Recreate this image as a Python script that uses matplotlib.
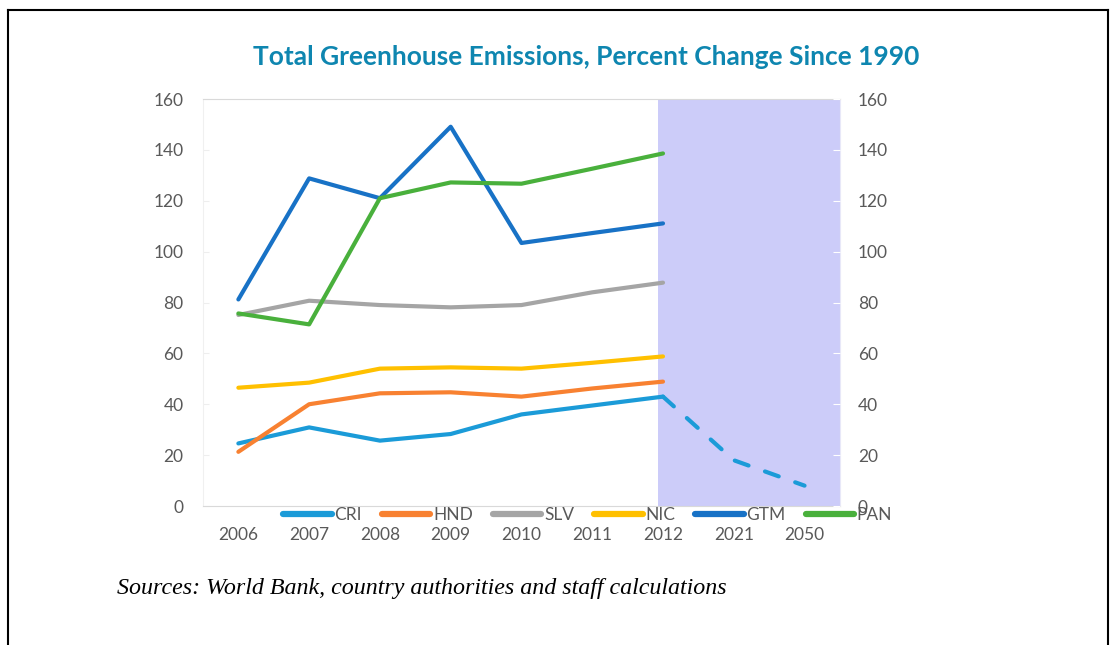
import numpy as np
import matplotlib
matplotlib.use("Agg")
import matplotlib.pyplot as plt
from matplotlib.lines import Line2D

# categories on the x axis
years = ["2006", "2007", "2008", "2009", "2010", "2011", "2012", "2021", "2050"]

# percent change since 1990 (2006-2012)
cri = [24.6, 30.9, 25.7, 28.3, 36.0, 39.5, 43.0]
hnd = [21.3, 40.0, 44.3, 44.7, 43.0, 46.2, 48.9]
slv = [75.1, 80.7, 79.0, 78.1, 79.0, 84.0, 87.8]
nic = [46.5, 48.5, 54.0, 54.5, 54.0, 56.3, 58.8]
gtm = [81.2, 128.8, 121.0, 149.1, 103.4, 107.3, 111.1]
pan = [75.7, 71.4, 121.0, 127.2, 126.7, 132.6, 138.6]
# CRI projection (2012, 2021, 2050)
cri_proj = [43.0, 18.0, 8.0]

series = [("CRI", cri, "#1B9BD8"), ("HND", hnd, "#F88131"),
          ("SLV", slv, "#A5A5A5"), ("NIC", nic, "#FFC000"),
          ("GTM", gtm, "#1872C6"), ("PAN", pan, "#49B03C")]

gray = "#595959"
plt.rcParams["font.family"] = ["Lato", "DejaVu Sans"]

fig = plt.figure(figsize=(11.11, 6.45), dpi=100)
ax = fig.add_axes([0.1827, 0.2155, 0.5733, 0.631])

x = np.arange(len(years))
ax.axvspan(5.93, 8.5, color="#CCCCF9", lw=0, zorder=0)

for name, vals, col in series:
    ax.plot(x[:len(vals)], vals, color=col, lw=3.0,
            solid_capstyle="round", solid_joinstyle="round", zorder=3)
ax.plot(x[6:], cri_proj, color="#1B9BD8", lw=3.0, dashes=(3.5, 4.2),
        dash_capstyle="round", zorder=3)

ax.set_xlim(-0.5, 8.5)
ax.set_ylim(0, 160)
ax.set_yticks(range(0, 161, 20))
ax.set_xticks(x)
ax.set_xticklabels(years)
for s in ax.spines.values():
    s.set_color("#D9D9D9")
ax.spines["left"].set_color("#F0F0F0")
ax.spines["right"].set_color("#E8E8F8")
ax.tick_params(axis="x", length=0, pad=15, labelsize=12.5, labelcolor=gray)
ax.tick_params(axis="y", direction="in", length=4, color="#EEEEEE",
               pad=14, labelsize=12.5, labelcolor=gray)

ax2 = ax.twinx()
ax2.set_ylim(0, 160)
ax2.set_yticks(range(0, 161, 20))
ax2.tick_params(axis="y", direction="in", length=5, color="white",
                pad=13, labelsize=12.5, labelcolor=gray)
for s in ax2.spines.values():
    s.set_visible(False)

handles = [Line2D([], [], color=c, lw=4.5, solid_capstyle="round")
           for _, _, c in series]
leg = ax.legend(handles, [n for n, _, _ in series], ncol=6, loc="center",
                bbox_to_anchor=(0.604, -0.022), frameon=False, fontsize=12.5,
                handlelength=2.8, handletextpad=0.15, columnspacing=1.15,
                labelcolor=gray, borderaxespad=0)
leg.set_zorder(5)

fig.text(0.5275, 0.9116, "Total Greenhouse Emissions, Percent Change Since 1990",
         ha="center", va="center", fontsize=19, fontweight="bold", color="#0E86B0")
fig.text(0.105, 0.088, "Sources: World Bank, country authorities and staff calculations",
         ha="left", va="center", fontsize=17.3, style="italic",
         family="Liberation Serif")

# page border
fig.add_artist(Line2D([0.0076, 0.9976], [0.985, 0.985], color="black", lw=1.5))
fig.add_artist(Line2D([0.0076, 0.0076], [0.0, 0.985], color="black", lw=1.5))
fig.add_artist(Line2D([0.9976, 0.9976], [0.0, 0.985], color="black", lw=1.5))

fig.savefig("out.png", dpi=100)
